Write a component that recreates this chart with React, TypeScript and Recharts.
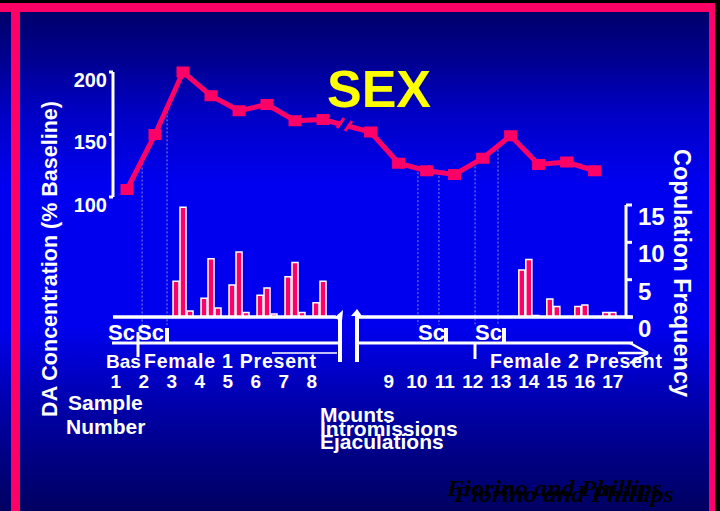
import React from "react";
import { ComposedChart, Line, Bar, XAxis, YAxis, ReferenceLine } from "recharts";

// sample numbers along the x axis
const samples = [1, 2, 3, 4, 5, 6, 7, 8, 9, 10, 11, 12, 13, 14, 15, 16, 17];
// DA concentration, % of baseline
const daConcentration = [106, 150, 200, 181, 169, 174, 161, 162, 152, 127, 121, 118, 131, 149, 126, 128, 121];
// copulation frequency per sample
const mounts = [0, 0, 4.8, 2.5, 4.3, 2.9, 5.4, 1.9, 0, 0, 0, 0, 0, 6.3, 2.4, 1.4, 0.6];
const intromissions = [0, 0, 14.7, 7.8, 8.7, 3.9, 7.3, 4.8, 0, 0, 0, 0, 0, 7.7, 1.4, 1.6, 0.6];
const ejaculations = [0, 0, 0.8, 1.2, 0.6, 0.4, 0.6, 0, 0, 0, 0, 0, 0, 0.2, 0, 0, 0];
const daTicks = [100, 150, 200];
const freqTicks = [0, 5, 10, 15];
// "Sc" events, in sample time
const scEvents = [1.54, 2.43, 10.69, 11.44, 12.73, 13.55];

const PINK = "#FF0066";
const FONT = "'Liberation Sans', Arial, sans-serif";
const BG: [number, string][] = [
  [0, "#000060"],
  [0.12, "#000092"],
  [0.22, "#0000C4"],
  [0.36, "#0000F0"],
  [0.64, "#0000EE"],
  [0.8, "#0000A8"],
  [0.9, "#000082"],
  [1, "#000062"],
];

// the axis is broken after sample 8; each layer is shifted differently on the slide
const BREAK_AFTER = 8;
const lineX = (s: number) => (s <= BREAK_AFTER ? s : s + 0.7);
const barX = (s: number) => (s <= BREAK_AFTER ? s : s + 1.35);
const tickX = (s: number) => (s <= BREAK_AFTER ? s - 0.4 : s + 1.35);

const X_DOMAIN = [0.5, 18.82];
const DA_DOMAIN = [4, 200];
const FREQ_DOMAIN = [0, 32.81];
const BELOW_AXIS = -2.4; // DA units, where the dotted event lines stop

const table = samples.map((s, i) => ({
  sample: s,
  lx: lineX(s),
  bx: barX(s),
  tx: tickX(s),
  da: daConcentration[i],
  mounts: mounts[i],
  intromissions: intromissions[i],
  ejaculations: ejaculations[i],
}));

const daAt = (t: number) => {
  const lo = Math.floor(t);
  const f = t - lo;
  return daConcentration[lo - 1] + (daConcentration[lo] - daConcentration[lo - 1]) * f;
};

const SquareDot = (props: any) => {
  const { cx, cy, index } = props;
  if (cx == null || cy == null) return null;
  return <rect key={`sq-${index}`} x={cx - 6.5} y={cy - 5.5} width={13} height={11} fill={PINK} />;
};

const DaTick = ({ x, y, payload }: any) => (
  <text x={x} y={y + 14.5} textAnchor="end" fill="#fff" fontSize={20} fontWeight={700} fontFamily={FONT}>
    {payload.value}
  </text>
);

const FreqTick = ({ x, y, payload }: any) => (
  <text x={x} y={y + 20} textAnchor="start" fill="#fff" fontSize={24} fontWeight={700} fontFamily={FONT}>
    {payload.value}
  </text>
);

const SampleTick = ({ x, y, index }: any) => (
  <text x={x} y={y + 11} textAnchor="middle" fill="#fff" fontSize={19} fontWeight={700} fontFamily={FONT}>
    {samples[index]}
  </text>
);

const txt = (x: number, y: number, s: string, size: number, extra: any = {}) => (
  <text x={x} y={y} fill="#fff" fontSize={size} fontWeight={700} fontFamily={FONT} {...extra}>
    {s}
  </text>
);

export default function App() {
  const grad = `linear-gradient(to bottom, ${BG.map(([o, c]) => `${c} ${o * 100}%`).join(", ")})`;
  return (
    <div style={{ position: "absolute", left: 0, top: 0, width: 720, height: 511, background: grad, overflow: "hidden" }}>
      <ComposedChart
        width={720}
        height={511}
        data={table}
        margin={{ top: 72, right: 44, bottom: 114, left: 63 }}
        barGap={1}
      >
        <XAxis
          xAxisId="tick"
          dataKey="tx"
          type="number"
          domain={X_DOMAIN}
          ticks={table.map((d) => d.tx)}
          interval={0}
          height={80}
          axisLine={false}
          tickLine={false}
          tickSize={0}
          tickMargin={0}
          tick={SampleTick}
        />
        <XAxis xAxisId="line" dataKey="lx" type="number" domain={X_DOMAIN} hide />
        <XAxis xAxisId="bar" dataKey="bx" type="number" domain={X_DOMAIN} hide />
        <YAxis
          yAxisId="da"
          orientation="left"
          width={50}
          domain={DA_DOMAIN}
          ticks={daTicks}
          interval={0}
          axisLine={false}
          tickLine={{ stroke: "#fff", strokeWidth: 3 }}
          tickSize={4}
          tickMargin={2}
          tick={DaTick}
        />
        <YAxis
          yAxisId="cf"
          orientation="right"
          width={50}
          domain={FREQ_DOMAIN}
          ticks={freqTicks}
          interval={0}
          axisLine={false}
          tickLine={{ stroke: "#fff", strokeWidth: 3 }}
          tickSize={6}
          tickMargin={6}
          tick={FreqTick}
        />

        {scEvents.map((ev) => (
          <ReferenceLine
            key={`ev-${ev}`}
            xAxisId="line"
            yAxisId="da"
            segment={[
              { x: lineX(ev), y: daAt(ev) - 3 },
              { x: lineX(ev), y: BELOW_AXIS },
            ]}
            stroke="#8C8CDC"
            strokeWidth={1}
            strokeDasharray="2 2"
            ifOverflow="visible"
          />
        ))}

        {/* axis brackets and broken baseline */}
        <ReferenceLine
          xAxisId="line"
          yAxisId="da"
          segment={[
            { x: X_DOMAIN[0], y: 100 },
            { x: X_DOMAIN[0], y: 200 },
          ]}
          stroke="#fff"
          strokeWidth={3}
        />
        <ReferenceLine
          xAxisId="bar"
          yAxisId="cf"
          segment={[
            { x: X_DOMAIN[1], y: 0 },
            { x: X_DOMAIN[1], y: 15 },
          ]}
          stroke="#fff"
          strokeWidth={3}
        />
        <ReferenceLine
          xAxisId="bar"
          yAxisId="cf"
          segment={[
            { x: 0.5, y: 0 },
            { x: 8.46, y: 0 },
          ]}
          stroke="#fff"
          strokeWidth={3.5}
          ifOverflow="visible"
        />
        <ReferenceLine
          xAxisId="bar"
          yAxisId="cf"
          segment={[
            { x: 9.21, y: 0 },
            { x: 19.07, y: 0 },
          ]}
          stroke="#fff"
          strokeWidth={3.5}
          ifOverflow="visible"
        />

        <Bar xAxisId="bar" yAxisId="cf" dataKey="mounts" barSize={6} fill={PINK} stroke="#fff" strokeWidth={1.5} isAnimationActive={false} />
        <Bar xAxisId="bar" yAxisId="cf" dataKey="intromissions" barSize={6} fill={PINK} stroke="#fff" strokeWidth={1.5} isAnimationActive={false} />
        <Bar xAxisId="bar" yAxisId="cf" dataKey="ejaculations" barSize={6} fill={PINK} stroke="#fff" strokeWidth={1.5} isAnimationActive={false} />

        <Line
          xAxisId="line"
          yAxisId="da"
          dataKey="da"
          stroke={PINK}
          strokeWidth={5}
          dot={SquareDot}
          activeDot={false}
          isAnimationActive={false}
        />
      </ComposedChart>

      <svg width={720} height={511} style={{ position: "absolute", left: 0, top: 0, pointerEvents: "none" }}>
        <defs>
          <linearGradient id="bgGrad" gradientUnits="userSpaceOnUse" x1={0} y1={0} x2={0} y2={511}>
            {BG.map(([o, c]) => (
              <stop key={o} offset={o} stopColor={c} />
            ))}
          </linearGradient>
        </defs>

        {/* break in the DA line */}
        <polygon points="339,128 345,119 351,121 345,131" fill="url(#bgGrad)" />
        <line x1={337} y1={128} x2={344} y2={118} stroke={PINK} strokeWidth={3} />
        <line x1={345} y1={131} x2={352} y2={121} stroke={PINK} strokeWidth={3} />

        {/* frame */}
        <rect x={0} y={0} width={720} height={3} fill="#000" />
        <rect x={715} y={0} width={5} height={511} fill="#000" />
        <rect x={0} y={3} width={715} height={9} fill={PINK} />
        <rect x={11} y={3} width={9} height={508} fill={PINK} />
        <rect x={709} y={3} width={6} height={508} fill={PINK} />

        {txt(379, 107, "SEX", 52, { fill: "#FFFF00", textAnchor: "middle" })}
        {txt(0, 0, "DA Concentration (% Baseline)", 21.5, { transform: "translate(57,259) rotate(-90)", textAnchor: "middle" })}
        {txt(0, 0, "Copulation Frequency", 23.5, { transform: "translate(674,273) rotate(90)", textAnchor: "middle" })}

        {/* behaviour timeline under the bars */}
        {txt(108, 340, "Sc", 22)}
        {txt(137, 340, "Sc", 22)}
        {txt(418, 340, "Sc", 22)}
        {txt(475, 340, "Sc", 22)}
        <rect x={165} y={328} width={4} height={15} fill="#fff" />
        <rect x={444} y={328} width={4} height={15} fill="#fff" />
        <rect x={502} y={328} width={4} height={15} fill="#fff" />
        <g stroke="#fff" fill="none">
          <line x1={112} y1={343} x2={338} y2={343} strokeWidth={3} />
          <line x1={357} y1={343} x2={633} y2={343} strokeWidth={3} />
          <line x1={138} y1={332} x2={138} y2={357} strokeWidth={3} />
          <line x1={475} y1={343} x2={475} y2={359} strokeWidth={3} />
          <line x1={272} y1={353} x2={337} y2={353} strokeWidth={1.5} />
          <line x1={618} y1={353} x2={648} y2={353} strokeWidth={2.5} />
          <line x1={630} y1={343} x2={648} y2={353} strokeWidth={2.5} />
          <line x1={630} y1={363} x2={648} y2={353} strokeWidth={2.5} />
          <line x1={340} y1={315} x2={340} y2={362} strokeWidth={4} />
          <line x1={357} y1={315} x2={357} y2={362} strokeWidth={4} />
        </g>
        <polygon points="334,318 343,310 342,321" fill="#fff" />
        <polygon points="351,316 357,309 362,316" fill="#fff" />
        {txt(106, 368, "Bas", 19)}
        {txt(144, 368, "Female 1 Present", 19.5, { textLength: 172, lengthAdjust: "spacing" })}
        {txt(490, 368, "Female 2 Present", 19.5, { textLength: 172, lengthAdjust: "spacing" })}

        {txt(68, 410, "Sample", 21)}
        {txt(66, 434, "Number", 21)}
        {txt(320, 422, "Mounts", 21)}
        {txt(320, 436, "Intromissions", 21)}
        {txt(320, 449, "Ejaculations", 21)}

        <g fill="#000" fontFamily="'Liberation Serif', 'Times New Roman', serif" fontStyle="italic" fontWeight={700} fontSize={24}>
          <text x={447} y={496} textLength={215} lengthAdjust="spacingAndGlyphs">Fiorino and Phillips</text>
          <text x={454} y={502} textLength={220} lengthAdjust="spacingAndGlyphs">Fiorino and Phillips</text>
        </g>
      </svg>
    </div>
  );
}
